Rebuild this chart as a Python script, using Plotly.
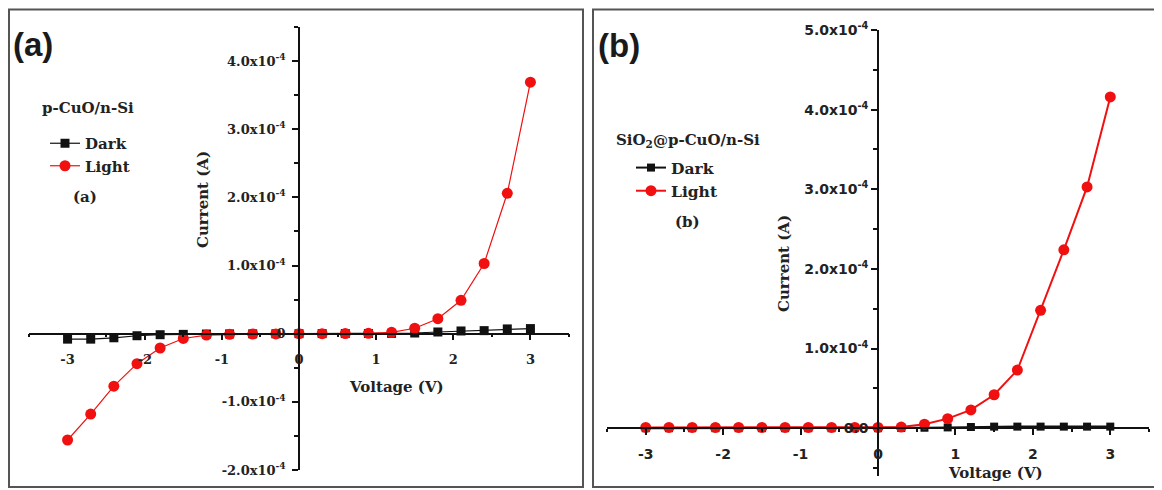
import plotly.graph_objects as go

# ---------------- data ----------------
voltage = [-3.0, -2.7, -2.4, -2.1, -1.8, -1.5, -1.2, -0.9, -0.6, -0.3, 0.0,
           0.3, 0.6, 0.9, 1.2, 1.5, 1.8, 2.1, 2.4, 2.7, 3.0]

# panel (a) p-CuO/n-Si  (A)
dark_a = [-0.08e-4, -0.08e-4, -0.06e-4, -0.03e-4, -0.015e-4, -0.01e-4, -0.005e-4,
          -0.003e-4, -0.002e-4, -0.001e-4, 0.0, 0.001e-4, 0.002e-4, 0.003e-4,
          0.005e-4, 0.01e-4, 0.025e-4, 0.04e-4, 0.045e-4, 0.07e-4, 0.075e-4]
light_a = [-1.56e-4, -1.18e-4, -0.77e-4, -0.44e-4, -0.21e-4, -0.07e-4, -0.02e-4,
           -0.01e-4, -0.005e-4, -0.003e-4, 0.0, 0.0, 0.002e-4, 0.005e-4,
           0.02e-4, 0.08e-4, 0.22e-4, 0.49e-4, 1.03e-4, 2.06e-4, 3.69e-4]

# panel (b) SiO2@p-CuO/n-Si  (A)
dark_b = [0.0, 0.0, 0.0, 0.0, 0.0, 0.0, 0.0, 0.0, 0.0, 0.0, 0.0,
          0.003e-4, 0.006e-4, 0.01e-4, 0.015e-4, 0.02e-4, 0.02e-4, 0.02e-4,
          0.02e-4, 0.02e-4, 0.02e-4]
light_b = [0.01e-4, 0.01e-4, 0.01e-4, 0.01e-4, 0.01e-4, 0.01e-4, 0.01e-4,
           0.01e-4, 0.01e-4, 0.01e-4, 0.01e-4, 0.015e-4, 0.05e-4, 0.12e-4,
           0.23e-4, 0.42e-4, 0.73e-4, 1.48e-4, 2.24e-4, 3.03e-4, 4.16e-4]

x_ticks = [-3, -2, -1, 0, 1, 2, 3]
x_ticktext = ["-3", "-2", "-1", "0", "1", "2", "3"]
ya_ticks = [-2e-4, -1e-4, 0, 1e-4, 2e-4, 3e-4, 4e-4]
ya_ticktext = ["-2.0x10<sup>-4</sup>", "-1.0x10<sup>-4</sup>", "0",
               "1.0x10<sup>-4</sup>", "2.0x10<sup>-4</sup>",
               "3.0x10<sup>-4</sup>", "4.0x10<sup>-4</sup>"]
yb_ticks = [0, 1e-4, 2e-4, 3e-4, 4e-4, 5e-4]
yb_ticktext = ["0.0", "1.0x10<sup>-4</sup>", "2.0x10<sup>-4</sup>",
               "3.0x10<sup>-4</sup>", "4.0x10<sup>-4</sup>", "5.0x10<sup>-4</sup>"]

# The page body adds an 8px offset, so the figure is laid out in
# page-pixel coordinates minus that offset.
OFF = 8
W, H = 1162 - OFF, 490 - OFF
def px(x):
    return (x - OFF) / W
def py(y):
    return 1 - (y - OFF) / H

RED = "#f01010"
BLK = "#111111"
SERIF = "DejaVu Serif"
SANS = "DejaVu Sans"

fig = go.Figure()

# panel a
fig.add_trace(go.Scatter(x=voltage, y=dark_a, mode="lines+markers", name="Dark",
                         line=dict(color=BLK, width=1.2),
                         marker=dict(symbol="square", size=9, color=BLK),
                         xaxis="x", yaxis="y", legend="legend"))
fig.add_trace(go.Scatter(x=voltage, y=light_a, mode="lines+markers", name="Light",
                         line=dict(color=RED, width=1.2),
                         marker=dict(symbol="circle", size=11, color=RED),
                         xaxis="x", yaxis="y", legend="legend"))
# panel b
fig.add_trace(go.Scatter(x=voltage, y=dark_b, mode="lines+markers", name="Dark",
                         line=dict(color=BLK, width=2),
                         marker=dict(symbol="square", size=8, color=BLK),
                         xaxis="x2", yaxis="y2", legend="legend2"))
fig.add_trace(go.Scatter(x=voltage, y=light_b, mode="lines+markers", name="Light",
                         line=dict(color=RED, width=2),
                         marker=dict(symbol="circle", size=11, color=RED),
                         xaxis="x2", yaxis="y2", legend="legend2"))

# geometry (page pixels)
ax_l, ax_r = 29, 569
ay_t, ay_b = 27, 470
a_zero_y = ay_b - (0 - (-2e-4)) / 6.5e-4 * (ay_b - ay_t)
a_zero_x = ax_l + 3.5 / 7 * (ax_r - ax_l)

bx_l, bx_r = 607, 1149
by_t, by_b = 30, 476
b_zero_y = by_b - (0 - (-0.6e-4)) / 5.6e-4 * (by_b - by_t)
b_zero_x = bx_l + 3.5 / 7 * (bx_r - bx_l)

common_axis = dict(showline=True, linecolor=BLK, linewidth=1.5, showgrid=False,
                   zeroline=False, ticks="outside", ticklen=6, tickwidth=1.5,
                   tickcolor=BLK, automargin=False)

tickfont_a = dict(family=SERIF, size=13, color="#222", weight="bold")
tickfont_b = dict(family=SANS, size=14, color="#222", weight="bold")

fig.update_layout(
    width=W, height=H, margin=dict(l=0, r=0, t=0, b=0, pad=0, autoexpand=False),
    plot_bgcolor="white", paper_bgcolor="white",
    xaxis=dict(domain=[px(ax_l), px(ax_r)], range=[-3.5, 3.5], anchor="free",
               position=py(a_zero_y), tickmode="array", tickvals=x_ticks,
               ticktext=x_ticktext, tickfont=tickfont_a, ticklabelstandoff=8,
               minor=dict(dtick=0.5, tick0=0, ticks="outside", ticklen=3, tickcolor=BLK),
               **common_axis),
    yaxis=dict(domain=[py(ay_b), py(ay_t)], range=[-2e-4, 4.5e-4], anchor="free",
               position=px(a_zero_x), tickmode="array", tickvals=ya_ticks,
               ticktext=ya_ticktext, tickfont=tickfont_a, ticklabelstandoff=4,
               minor=dict(dtick=0.5e-4, tick0=0, ticks="outside", ticklen=4, tickcolor=BLK),
               **common_axis),
    xaxis2=dict(domain=[px(bx_l), px(bx_r)], range=[-3.5, 3.5], anchor="free",
                position=py(b_zero_y), tickmode="array", tickvals=x_ticks,
                ticktext=x_ticktext, tickfont=tickfont_b, ticklabelstandoff=7,
                minor=dict(dtick=0.5, tick0=0, ticks="outside", ticklen=3, tickcolor=BLK),
                **common_axis),
    yaxis2=dict(domain=[py(by_b), py(by_t)], range=[-0.6e-4, 5e-4], anchor="free",
                position=px(b_zero_x), tickmode="array", tickvals=yb_ticks,
                ticktext=yb_ticktext, tickfont=tickfont_b, ticklabelstandoff=0,
                minor=dict(dtick=0.5e-4, tick0=0, ticks="outside", ticklen=4, tickcolor=BLK),
                **common_axis),
    legend=dict(x=px(45), y=py(127), xanchor="left", yanchor="top",
                bgcolor="rgba(0,0,0,0)", tracegroupgap=0, itemwidth=30,
                traceorder="normal",
                font=dict(family=SERIF, size=15, color="#222", weight="bold")),
    legend2=dict(x=px(631), y=py(151), xanchor="left", yanchor="top",
                 bgcolor="rgba(0,0,0,0)", tracegroupgap=0, itemwidth=30,
                 traceorder="normal",
                 font=dict(family=SERIF, size=15.5, color="#222", weight="bold")),
)

ann_font = dict(family=SERIF, size=15, color="#222", weight="bold")
anns = [
    dict(text="(a)", x=px(33), y=py(45), font=dict(family="Liberation Sans", size=33, color="#1a1a1a", weight="bold")),
    dict(text="(b)", x=px(619), y=py(46), font=dict(family="Liberation Sans", size=33, color="#1a1a1a", weight="bold")),
    dict(text="p-CuO/n-Si", x=px(88), y=py(108), font=ann_font),
    dict(text="SiO<sub>2</sub>@p-CuO/n-Si", x=px(688), y=py(140), font=ann_font),
    dict(text="(a)", x=px(85), y=py(197), font=ann_font),
    dict(text="(b)", x=px(687), y=py(222), font=ann_font),
    dict(text="Voltage (V)", x=px(396), y=py(387), font=ann_font),
    dict(text="Voltage (V)", x=px(995), y=py(473), font=ann_font),
    dict(text="Current (A)", x=px(203), y=py(200), textangle=-90, font=ann_font),
    dict(text="Current (A)", x=px(784), y=py(264), textangle=-90, font=ann_font),
]
for a in anns:
    a.update(xref="paper", yref="paper", xanchor="center", yanchor="middle", showarrow=False)
    fig.add_annotation(**a)

# panel frames
fig.add_shape(type="rect", xref="paper", yref="paper", x0=px(9), x1=px(583),
              y0=py(487), y1=py(9.5), line=dict(color="#555", width=2))
fig.add_shape(type="rect", xref="paper", yref="paper", x0=px(593), x1=px(1158),
              y0=py(487), y1=py(9.5), line=dict(color="#555", width=2))

fig.write_html("out.html")
